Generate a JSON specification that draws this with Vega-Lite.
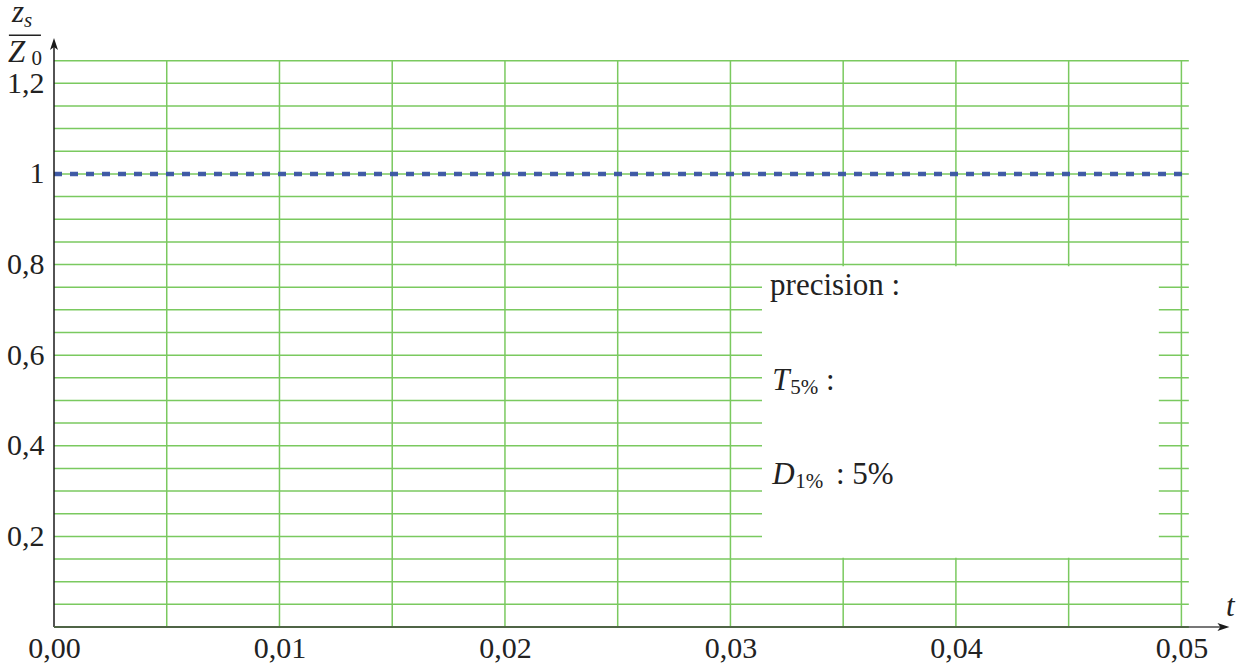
{
  "$schema": "https://vega.github.io/schema/vega-lite/v6.json",
  "width": 1177,
  "height": 589,
  "autosize": {"type": "none"},
  "padding": {"left": 54, "top": 38, "right": 11, "bottom": 39},
  "background": "white",
  "data": {"values": [{"one": 1}]},
  "config": {
    "view": {"stroke": null},
    "axis": {"domain": false, "ticks": false, "grid": false, "labelFlush": false, "labelFont": "Liberation Serif", "labelFontSize": 30, "labelColor": "#222222"}
  },
  "datasets": {
    "hgrid": [
      {"y": 0.05}, {"y": 0.10}, {"y": 0.15}, {"y": 0.20}, {"y": 0.25},
      {"y": 0.30}, {"y": 0.35}, {"y": 0.40}, {"y": 0.45}, {"y": 0.50},
      {"y": 0.55}, {"y": 0.60}, {"y": 0.65}, {"y": 0.70}, {"y": 0.75},
      {"y": 0.80}, {"y": 0.85}, {"y": 0.90}, {"y": 0.95}, {"y": 1.00},
      {"y": 1.05}, {"y": 1.10}, {"y": 1.15}, {"y": 1.20}, {"y": 1.25}
    ],
    "vgrid": [
      {"x": 0.005}, {"x": 0.010}, {"x": 0.015}, {"x": 0.020}, {"x": 0.025},
      {"x": 0.030}, {"x": 0.035}, {"x": 0.040}, {"x": 0.045}, {"x": 0.050}
    ],
    "box": [{"x": 0.0314, "x2": 0.0490, "y": 0.153, "y2": 0.796}],
    "texts": [
      {"text": "precision :", "x": 0.03176, "y": 0.7324, "kind": "mu"},
      {"text": "T", "x": 0.03185, "y": 0.5228, "kind": "mi"},
      {"text": "5%", "x": 0.03265, "y": 0.5140, "kind": "su"},
      {"text": ":", "x": 0.03424, "y": 0.5228, "kind": "mu"},
      {"text": "D", "x": 0.03185, "y": 0.3155, "kind": "mi"},
      {"text": "1%", "x": 0.03287, "y": 0.3066, "kind": "su"},
      {"text": ": 5%", "x": 0.03468, "y": 0.3155, "kind": "mu"},
      {"text": "z", "x": -0.001863, "y": 1.3347, "kind": "mi"},
      {"text": "s", "x": -0.00133, "y": 1.3236, "kind": "si"},
      {"text": "Z", "x": -0.002040, "y": 1.2464, "kind": "mi"},
      {"text": "0", "x": -0.00100, "y": 1.2398, "kind": "su"},
      {"text": "t", "x": 0.05198, "y": 0.0243, "kind": "mi"}
    ]
  },
  "layer": [
    {
      "data": {"name": "hgrid"},
      "mark": {"type": "rule", "color": "#7ac95f", "strokeWidth": 1.5},
      "encoding": {
        "y": {"field": "y", "type": "quantitative", "title": null,
              "scale": {"domain": [0, 1.3], "nice": false, "zero": true},
              "axis": {"values": [0.2, 0.4, 0.6, 0.8, 1, 1.2], "labelPadding": 10,
                       "labelExpr": "replace(format(datum.value, '~g'), '.', ',')"}},
        "x": {"datum": 0, "type": "quantitative",
              "scale": {"domain": [0, 0.0522], "nice": false, "zero": true},
              "axis": {"values": [0, 0.01, 0.02, 0.03, 0.04, 0.05], "labelPadding": 6, "title": null,
                       "labelExpr": "replace(format(datum.value, '.2f'), '.', ',')"}},
        "x2": {"datum": 0.05033}
      }
    },
    {
      "data": {"name": "vgrid"},
      "mark": {"type": "rule", "color": "#7ac95f", "strokeWidth": 1.5},
      "encoding": {
        "x": {"field": "x", "type": "quantitative", "title": null},
        "y": {"datum": 0, "type": "quantitative"},
        "y2": {"datum": 1.25}
      }
    },
    {
      "data": {"name": "box"},
      "mark": {"type": "rect", "fill": "white", "stroke": null},
      "encoding": {
        "x": {"field": "x", "type": "quantitative", "title": null},
        "x2": {"field": "x2"},
        "y": {"field": "y", "type": "quantitative", "title": null},
        "y2": {"field": "y2"}
      }
    },
    {
      "mark": {"type": "rule", "color": "#3953a4", "strokeWidth": 4.5, "strokeDash": [8, 8], "opacity": 0.95},
      "encoding": {
        "x": {"datum": 0, "type": "quantitative"},
        "x2": {"datum": 0.05033},
        "y": {"datum": 1, "type": "quantitative"}
      }
    },
    {
      "mark": {"type": "rule", "color": "#1a1a1a", "strokeWidth": 1.5},
      "encoding": {
        "x": {"datum": 0, "type": "quantitative"},
        "y": {"datum": 0, "type": "quantitative"},
        "y2": {"datum": 1.285}
      }
    },
    {
      "mark": {"type": "rule", "color": "#777777", "strokeWidth": 2},
      "encoding": {
        "x": {"datum": 0.05, "type": "quantitative"},
        "x2": {"datum": 0.0519},
        "y": {"datum": 0, "type": "quantitative"}
      }
    },
    {
      "mark": {"type": "rule", "color": "#4f6446", "strokeWidth": 2},
      "encoding": {
        "x": {"datum": 0, "type": "quantitative"},
        "x2": {"datum": 0.05033},
        "y": {"datum": 0, "type": "quantitative"}
      }
    },
    {
      "mark": {"type": "rule", "color": "#222222", "strokeWidth": 1.5},
      "encoding": {
        "x": {"datum": -0.0020, "type": "quantitative"},
        "x2": {"datum": -0.00058},
        "y": {"datum": 1.306, "type": "quantitative"}
      }
    },
    {
      "mark": {"type": "point", "shape": "M0,0L-0.4,1.2L0,0.9L0.4,1.2Z", "size": 400, "filled": true, "color": "#1a1a1a", "opacity": 1, "strokeWidth": 0},
      "encoding": {
        "x": {"datum": 0, "type": "quantitative"},
        "y": {"datum": 1.3, "type": "quantitative"}
      }
    },
    {
      "mark": {"type": "point", "shape": "M0,0L-1.2,-0.4L-0.9,0L-1.2,0.4Z", "size": 400, "filled": true, "color": "#1a1a1a", "opacity": 1, "strokeWidth": 0},
      "encoding": {
        "x": {"datum": 0.05213, "type": "quantitative"},
        "y": {"datum": 0, "type": "quantitative"}
      }
    },
    {
      "data": {"name": "texts"},
      "transform": [{"filter": "datum.kind == 'mu'"}],
      "mark": {"type": "text", "font": "Liberation Serif", "fontSize": 31, "align": "left", "baseline": "alphabetic", "color": "#222222"},
      "encoding": {
        "x": {"field": "x", "type": "quantitative", "title": null},
        "y": {"field": "y", "type": "quantitative", "title": null},
        "text": {"field": "text"}
      }
    },
    {
      "data": {"name": "texts"},
      "transform": [{"filter": "datum.kind == 'mi'"}],
      "mark": {"type": "text", "font": "Liberation Serif", "fontSize": 31, "fontStyle": "italic", "align": "left", "baseline": "alphabetic", "color": "#222222"},
      "encoding": {
        "x": {"field": "x", "type": "quantitative", "title": null},
        "y": {"field": "y", "type": "quantitative", "title": null},
        "text": {"field": "text"}
      }
    },
    {
      "data": {"name": "texts"},
      "transform": [{"filter": "datum.kind == 'su'"}],
      "mark": {"type": "text", "font": "Liberation Serif", "fontSize": 21, "align": "left", "baseline": "alphabetic", "color": "#222222"},
      "encoding": {
        "x": {"field": "x", "type": "quantitative", "title": null},
        "y": {"field": "y", "type": "quantitative", "title": null},
        "text": {"field": "text"}
      }
    },
    {
      "data": {"name": "texts"},
      "transform": [{"filter": "datum.kind == 'si'"}],
      "mark": {"type": "text", "font": "Liberation Serif", "fontSize": 21, "fontStyle": "italic", "align": "left", "baseline": "alphabetic", "color": "#222222"},
      "encoding": {
        "x": {"field": "x", "type": "quantitative", "title": null},
        "y": {"field": "y", "type": "quantitative", "title": null},
        "text": {"field": "text"}
      }
    }
  ]
}
